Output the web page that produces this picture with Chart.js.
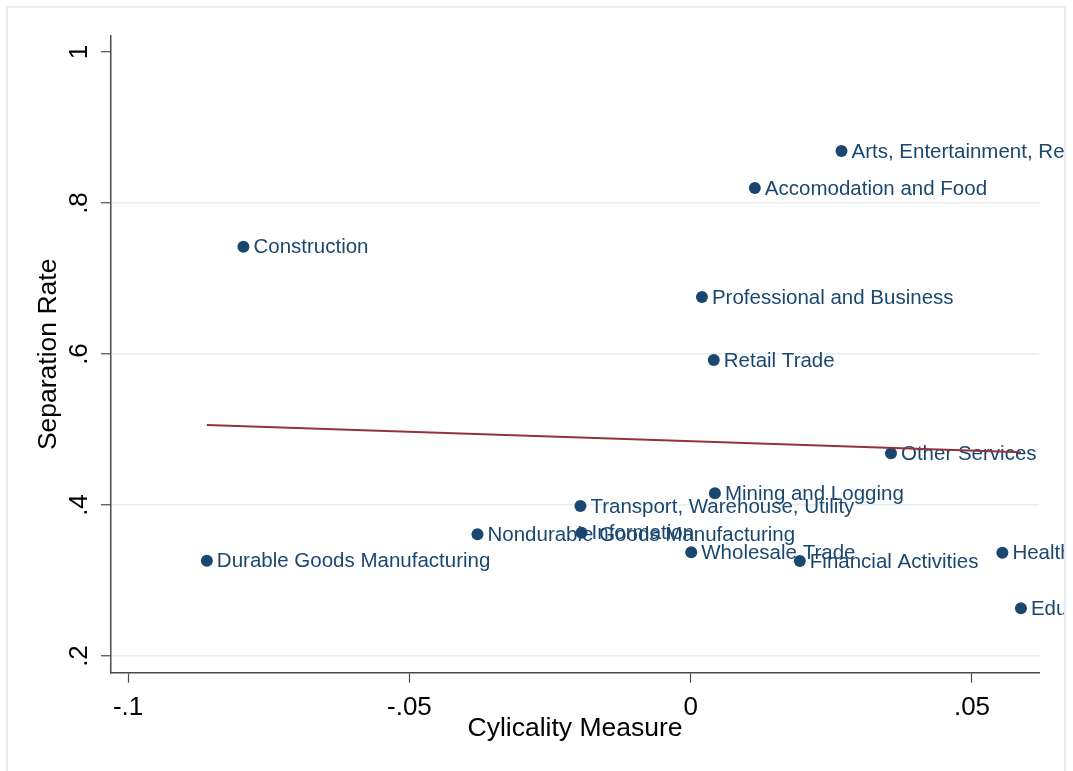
<!DOCTYPE html>
<html>
<head>
<meta charset="utf-8">
<script src="https://cdn.jsdelivr.net/npm/chart.js@4.4.1/dist/chart.umd.min.js"></script>
<style>
  html, body { margin: 0; padding: 0; background: #ffffff; }
  #wrap { position: relative; width: 1073px; height: 771px; overflow: hidden; }
  #c { position: absolute; left: 0; top: 0; }
  #frame {
    position: absolute; left: 6px; top: 6px; width: 1060px; height: 800px;
    border: 2px solid #e6ecf0; box-sizing: border-box; pointer-events: none;
  }
</style>
</head>
<body>
<div id="wrap">
  <canvas id="c" width="1073" height="771" style="width:1073px;height:771px"></canvas>
  <div id="frame"></div>
</div>
<script>
// Industries, their cyclicality measure and separation rate
const industries = [
  'Arts, Entertainment, Recreation',
  'Accomodation and Food',
  'Construction',
  'Professional and Business',
  'Retail Trade',
  'Other Services',
  'Mining and Logging',
  'Transport, Warehouse, Utility',
  'Nondurable Goods Manufacturing',
  'Information',
  'Durable Goods Manufacturing',
  'Wholesale Trade',
  'Financial Activities',
  'Health Care and Social Assistance',
  'Educational Services'
];
const cyclicality = [
  0.0268, 0.0114, -0.0795, 0.0020, 0.0041, 0.0356, 0.0043, -0.0196,
  -0.0379, -0.0194, -0.0860, 0.0001, 0.0194, 0.0554, 0.0587
];
const separation = [
  0.869, 0.820, 0.742, 0.6755, 0.592, 0.4685, 0.4155, 0.3987,
  0.3612, 0.3633, 0.3262, 0.3374, 0.3258, 0.3368, 0.2632
];

// Linear fit endpoints
const fitX = [-0.0860, 0.0587];
const fitY = [0.506, 0.470];

// Axis ticks
const xTicks = [-0.1, -0.05, 0, 0.05];
const xTickLabels = ['-.1', '-.05', '0', '.05'];
const yTicks = [0.2, 0.4, 0.6, 0.8, 1];
const yTickLabels = ['.2', '.4', '.6', '.8', '1'];

const NAVY = '#1a476f';
const MAROON = '#90353b';
const GRID = '#e6eef1';
const AXIS = '#4a4a4a';
const FONT = '"Liberation Sans", Arial, Helvetica, sans-serif';

// Marker labels placed to the right of each point
const pointLabels = {
  id: 'pointLabels',
  afterDatasetDraw(chart, args) {
    if (args.index !== 1) return;
    const ctx = chart.ctx;
    ctx.save();
    ctx.beginPath();
    ctx.rect(0, 0, 1064, chart.height);
    ctx.clip();
    ctx.font = '20.5px ' + FONT;
    ctx.fillStyle = NAVY;
    ctx.textAlign = 'left';
    ctx.textBaseline = 'middle';
    args.meta.data.forEach((pt, i) => {
      ctx.fillText(industries[i], pt.x + 10, pt.y + 1);
    });
    ctx.restore();
  }
};

new Chart(document.getElementById('c'), {
  type: 'scatter',
  data: {
    datasets: [
      {
        type: 'line',
        label: 'Fitted values',
        data: fitX.map((x, i) => ({ x, y: fitY[i] })),
        borderColor: MAROON,
        borderWidth: 2,
        pointRadius: 0,
        fill: false
      },
      {
        label: 'Separation Rate',
        data: cyclicality.map((x, i) => ({ x, y: separation[i] })),
        backgroundColor: NAVY,
        borderColor: NAVY,
        borderWidth: 0,
        pointRadius: 6,
        pointHoverRadius: 6
      }
    ]
  },
  options: {
    responsive: false,
    animation: false,
    layout: { padding: { top: 36, right: 34, left: 0, bottom: 0 } },
    plugins: { legend: { display: false }, tooltip: { enabled: false } },
    scales: {
      x: {
        type: 'linear',
        min: -0.10304,
        max: 0.06191,
        afterBuildTicks: s => { s.ticks = xTicks.map(v => ({ value: v })); },
        afterFit: s => { s.height = 98.3; },
        ticks: {
          callback: v => xTickLabels[xTicks.indexOf(v)],
          font: { family: FONT, size: 26 },
          color: '#000',
          padding: 10,
          maxRotation: 0,
          autoSkip: false
        },
        grid: {
          drawOnChartArea: false,
          drawTicks: true,
          tickLength: 10,
          tickColor: AXIS,
          tickWidth: 1.2
        },
        border: { color: AXIS, width: 1.5 },
        title: {
          display: true,
          text: 'Cylicality Measure',
          font: { family: FONT, size: 26.5 },
          color: '#000',
          padding: { top: 0, bottom: 26 }
        }
      },
      y: {
        type: 'linear',
        min: 0.1779,
        max: 1.0212,
        afterBuildTicks: s => { s.ticks = yTicks.map(v => ({ value: v })); },
        afterFit: s => { s.width = 111; },
        ticks: {
          callback: v => yTickLabels[yTicks.indexOf(v)],
          font: { family: FONT, size: 26 },
          color: '#000',
          padding: 10,
          minRotation: 90,
          maxRotation: 90,
          crossAlign: 'center',
          autoSkip: false
        },
        grid: {
          drawOnChartArea: true,
          drawTicks: true,
          tickLength: 10,
          color: c => (c.tick && c.tick.value === 1 ? 'rgba(0,0,0,0)' : GRID),
          lineWidth: 1.5,
          tickColor: AXIS,
          tickWidth: 1.2
        },
        border: { color: AXIS, width: 1.5 },
        title: {
          display: true,
          text: 'Separation Rate',
          font: { family: FONT, size: 26.5 },
          color: '#000',
          padding: { top: 33, bottom: 0 }
        }
      }
    }
  },
  plugins: [pointLabels]
});
</script>
</body>
</html>
